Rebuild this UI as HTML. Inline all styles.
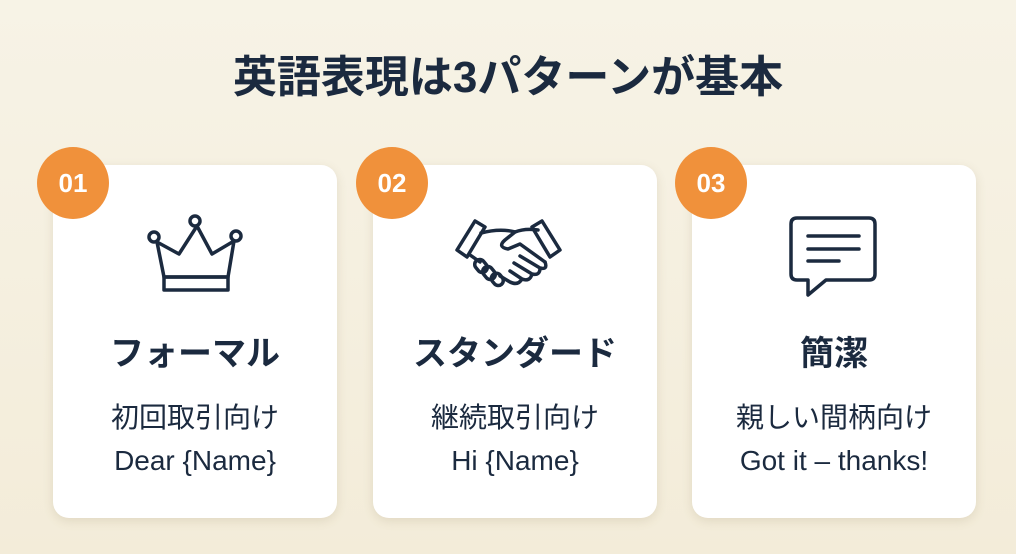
<!DOCTYPE html>
<html><head><meta charset="utf-8"><style>
body{margin:0;width:1016px;height:554px;background:linear-gradient(180deg,#f7f3e6,#f3ecd9);font-family:"Liberation Sans","Noto Sans CJK JP",sans-serif;position:relative;overflow:hidden;color:#1b2a3f}
h1{position:absolute;top:50px;left:0;width:1016px;text-align:center;margin:0;font-size:44px;line-height:56px;font-weight:700;letter-spacing:0}
.card{position:absolute;top:165px;width:284px;height:353px;background:#fff;border-radius:16px;box-shadow:0 3px 10px rgba(120,100,60,.15)}
.badge{position:absolute;width:72px;height:72px;border-radius:50%;background:#f0913b;color:#fff;font-weight:700;font-size:26px;line-height:72px;text-align:center;top:147px}
.card .t{position:absolute;top:161px;width:100%;text-align:center;font-size:34px;font-weight:700}
.s{position:absolute;top:231px;width:100%;text-align:center;font-size:28px;line-height:43px;color:#1b2a3f}
svg{position:absolute;left:0;top:0}
</style></head><body>
<h1>英語表現は3パターンが基本</h1>
<div class="card" style="left:53px"><div class="t">フォーマル</div><div class="s">初回取引向け<br>Dear {Name}</div></div>
<div class="card" style="left:373px"><div class="t">スタンダード</div><div class="s">継続取引向け<br>Hi {Name}</div></div>
<div class="card" style="left:692px"><div class="t">簡潔</div><div class="s">親しい間柄向け<br>Got it – thanks!</div></div>
<div class="badge" style="left:37px">01</div>
<div class="badge" style="left:356px">02</div>
<div class="badge" style="left:675px">03</div>
<svg width="1016" height="554" fill="none" stroke="#1b2a3f" stroke-width="3.5" stroke-linejoin="round" stroke-linecap="round">
<circle cx="154" cy="237" r="5"/><circle cx="195" cy="221" r="5"/><circle cx="236" cy="236" r="5"/>
<path d="M157 242 L164 277 L228 277 L234 241 L212 254 L197 226 L179 254 Z"/>
<rect x="164" y="277" width="64" height="13"/>
<path d="M457 250 L475 221 L485 227 L467 257 Z"/><path d="M560 250 L542 221 L532 227 L550 257 Z"/>
<path d="M481 233 Q500 228 515 232 L505 240 Q497 247 508 249 L520 244 L545 262"/>
<path d="M538 230 Q525 228 515 232"/>
<path d="M545 262 Q548 270 540 268 L520 256 M540 268 Q540 276 532 274 L514 263 M532 274 Q530 282 522 279 L510 271 M522 279 Q518 286 510 282 L500 276"/>
<path d="M470 255 L480 262"/>
<rect x="476" y="259" width="10" height="14" rx="5" transform="rotate(-40 481 266)"/>
<rect x="484" y="266" width="10" height="14" rx="5" transform="rotate(-40 489 273)"/>
<rect x="492" y="273" width="10" height="13" rx="5" transform="rotate(-40 497 279)"/>
<path d="M797 218 L869 218 Q875 218 875 224 L875 274 Q875 280 869 280 L826 280 L808 295 L808 280 L797 280 Q791 280 791 274 L791 224 Q791 218 797 218 Z"/>
<path d="M808 236 L859 236 M808 249 L859 249 M808 261 L839 261"/>
</svg>
</body></html>
